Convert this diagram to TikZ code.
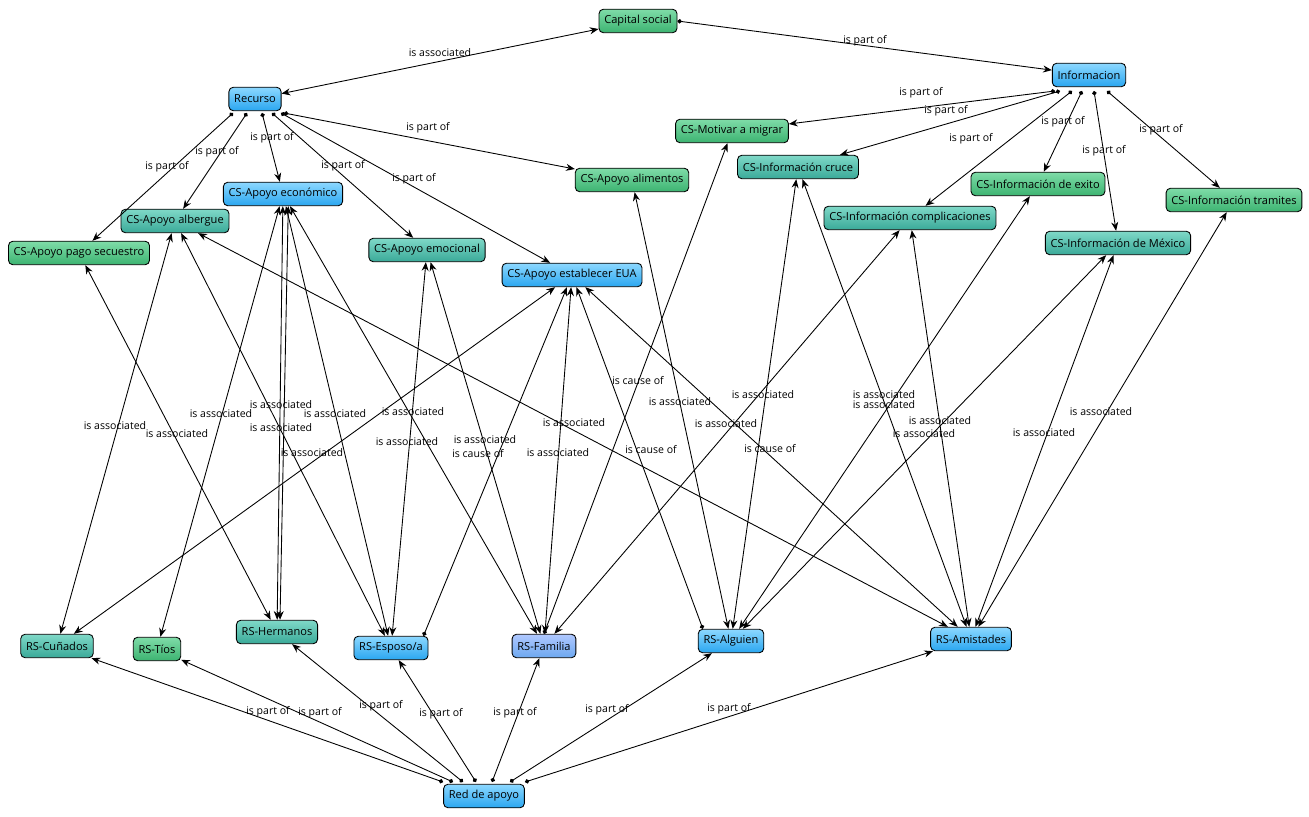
\documentclass[tikz,border=0pt]{standalone}
\usepackage{fontspec}
\setmainfont{Open Sans}
\usetikzlibrary{arrows.meta}
\definecolor{bT}{HTML}{8CD8FF}\definecolor{bB}{HTML}{2AA6F0}
\definecolor{gT}{HTML}{7FDCA8}\definecolor{gB}{HTML}{3CB371}
\definecolor{tT}{HTML}{7FD8C8}\definecolor{tB}{HTML}{3AAA98}
\definecolor{pT}{HTML}{B0C8FF}\definecolor{pB}{HTML}{6CA8F0}
\begin{document}
\begin{tikzpicture}[x=0.02cm,y=-0.02cm,
 nd/.style={draw=black,line width=0.5pt,rounded corners=2.5pt,minimum height=0.47cm,inner xsep=3pt,font=\fontsize{6.3}{7.5}\selectfont},
 bl/.style={nd,top color=bT,bottom color=bB},
 gr/.style={nd,top color=gT,bottom color=gB},
 te/.style={nd,top color=tT,bottom color=tB},
 pu/.style={nd,top color=pT,bottom color=pB},
 po/.style={line width=0.5pt,{Circle[length=2.5pt]}-{Stealth[length=5pt,width=4pt]}},
 as/.style={line width=0.5pt,{Stealth[length=5pt,width=4pt]}-{Stealth[length=5pt,width=4pt]}},
 lb/.style={font=\fontsize{6}{7}\selectfont,inner sep=0.5pt}]
\useasboundingbox (0,0) rectangle (1309,817);
\node[gr] (cap) at (638,21) {Capital social};
\node[bl] (inf) at (1089,75) {Informacion};
\node[bl] (rec) at (255,99) {Recurso};
\node[gr] (mot) at (732,131) {CS-Motivar a migrar};
\node[te] (cru) at (798,167) {CS-Información cruce};
\node[gr] (ali) at (632,180) {CS-Apoyo alimentos};
\node[gr] (exi) at (1038,184) {CS-Información de exito};
\node[gr] (tra) at (1234,200) {CS-Información tramites};
\node[bl] (eco) at (283,194) {CS-Apoyo económico};
\node[te] (alb) at (175,221) {CS-Apoyo albergue};
\node[te] (com) at (910,218) {CS-Información complicaciones};
\node[te] (emo) at (427,250) {CS-Apoyo emocional};
\node[te] (mex) at (1118,243) {CS-Información de México};
\node[gr] (pag) at (79,253) {CS-Apoyo pago secuestro};
\node[bl] (eua) at (572,275) {CS-Apoyo establecer EUA};
\node[te] (cun) at (57,646) {RS-Cuñados};
\node[gr] (tio) at (157,649) {RS-Tíos};
\node[te] (her) at (277,632) {RS-Hermanos};
\node[bl] (esp) at (391,648) {RS-Esposo/a};
\node[pu] (fam) at (544,646) {RS-Familia};
\node[bl] (alg) at (731,641) {RS-Alguien};
\node[bl] (ami) at (971,639) {RS-Amistades};
\node[bl] (red) at (484,796) {Red de apoyo};

\draw[as] (cap) -- (rec);
\draw[po] (cap.east) -- (inf);
\foreach \t/\xo in {mot/1055,cru/1060,com/1072,exi/1082,mex/1094,tra/1107}
  \draw[po] (\xo,91) -- (\t);
\foreach \t/\xo in {pag/233,alb/247,eco/262,emo/272,eua/281,ali/284}
  \draw[po] (\xo,113) -- (\t);
\foreach \t/\xo in {cun/443,tio/453,her/463,esp/476,fam/492,alg/510,ami/525}
  \draw[po] (\xo,782) -- (\t);
\foreach \a/\b in {cun/alb,cun/eua,tio/eco,her/pag,her/eco,esp/alb,esp/eco,esp/emo,fam/eco,fam/emo,fam/eua,fam/com,alg/ali,alg/cru,alg/exi,alg/mex,ami/alb,ami/eua,ami/cru,ami/com,ami/mex,ami/tra}
  \draw[as] (\a) -- (\b);
\draw[as] (her.north) ++(3,0) -- ([xshift=3pt]eco.south);
\draw[po] (esp.north east) ++(-5,0) -- (eua);
\draw[po] (fam.north) -- (mot);
\draw[po] (alg.north west) ++(5,0) -- (eua);

\foreach \p/\s in {{440,53}/is associated,{865,41}/is part of,{921,93}/is part of,{946,111}/is part of,{971,139}/is part of,{1063,122}/is part of,{1104,151}/is part of,{1161,130}/is part of,
{167,167}/is part of,{217,152}/is part of,{272,138}/is part of,{343,166}/is part of,{428,128}/is part of,{414,179}/is part of,
{268,712}/is part of,{320,713}/is part of,{381,706}/is part of,{441,714}/is part of,{515,713}/is part of,{607,710}/is part of,{729,709}/is part of,
{115,426}/is associated,{177,434}/is associated,{221,414}/is associated,{281,405}/is associated,{281,428}/is associated,{312,453}/is associated,{335,414}/is associated,{413,412}/is associated,{407,442}/is associated,{485,440}/is associated,{478,454}/is cause of,{558,453}/is associated,{574,423}/is associated,{638,381}/is cause of,{680,402}/is associated,{651,450}/is cause of,{726,424}/is associated,{763,395}/is associated,{770,449}/is cause of,{884,395}/is associated,{884,405}/is associated,{940,421}/is associated,{924,434}/is associated,{1101,412}/is associated,{1044,433}/is associated}
  \node[lb] at (\p) {\s};
\end{tikzpicture}
\end{document}
